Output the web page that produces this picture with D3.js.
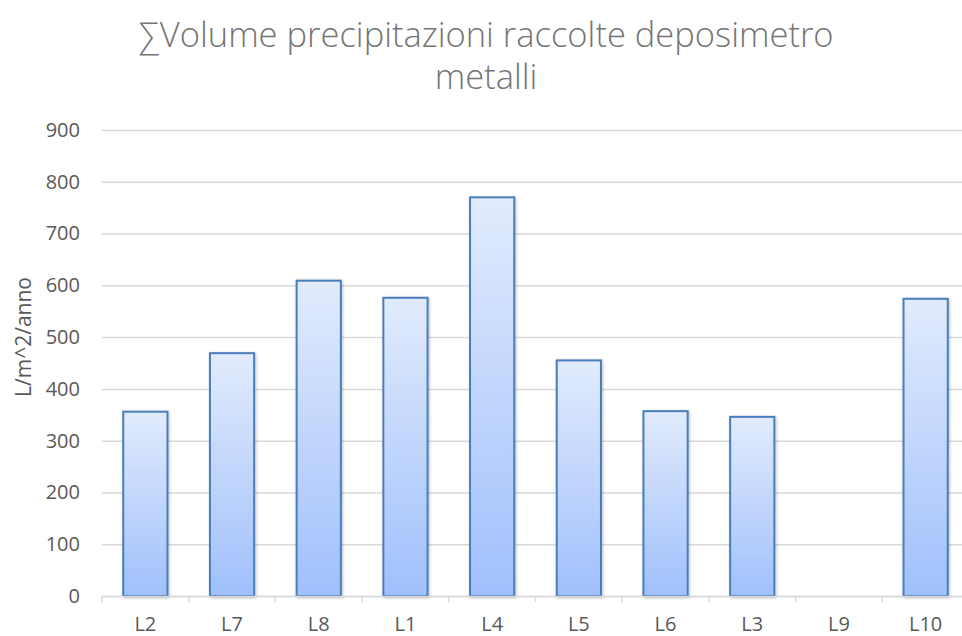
<!DOCTYPE html>
<html>
<head>
<meta charset="utf-8">
<script src="https://cdn.jsdelivr.net/npm/d3@7"></script>
<style>
  html, body { margin: 0; padding: 0; background: #fff; overflow: hidden; }
  svg { display: block; font-family: 'Open Sans', sans-serif; }
</style>
</head>
<body>
<div id="chart"></div>
<script>
var categories = ['L2', 'L7', 'L8', 'L1', 'L4', 'L5', 'L6', 'L3', 'L9', 'L10']
var values = [356, 469, 609, 576, 770, 455, 357, 346, 0, 574]
var yTicks = [0, 100, 200, 300, 400, 500, 600, 700, 800, 900]
var titleLines = ['\u2211Volume precipitazioni raccolte deposimetro', 'metalli']
var yLabel = 'L/m^2/anno'

var width = 962
var height = 636
var margin = {left: 102, right: -7, top: 130, bottom: 40}

var svg = d3.select('#chart')
  .append('svg')
  .attr('width', width)
  .attr('height', height)

var defs = svg.append('defs')
var grad = defs.append('linearGradient')
  .attr('id', 'barGrad')
  .attr('x1', '0%').attr('y1', '0%')
  .attr('x2', '0%').attr('y2', '100%')
grad.append('stop').attr('offset', '0%').attr('stop-color', '#e1ebfc')
grad.append('stop').attr('offset', '100%').attr('stop-color', '#a0c0fc')

var shadow = defs.append('filter')
  .attr('id', 'shadow')
  .attr('x', '-20%').attr('y', '-5%')
  .attr('width', '140%').attr('height', '110%')
shadow.append('feDropShadow')
  .attr('dx', 1).attr('dy', 1)
  .attr('stdDeviation', 1.5)
  .attr('flood-color', '#000')
  .attr('flood-opacity', 0.25)

var xScale = d3.scaleBand()
  .domain(categories)
  .range([margin.left, width - margin.right])
  .paddingInner(0.49)
  .paddingOuter(0.245)

var xBand = d3.scaleBand()
  .domain(categories)
  .range([margin.left, width - margin.right])

var yScale = d3.scaleLinear()
  .domain([0, 900])
  .range([height - margin.bottom, margin.top])

// gridlines
var grid = svg.append('g')
  .attr('class', 'grid')
  .attr('transform', 'translate(' + margin.left + ',0)')
  .call(d3.axisLeft(yScale)
    .tickValues(yTicks)
    .tickSize(-(width - margin.right - margin.left))
    .tickFormat(''))
grid.select('.domain').remove()
grid.selectAll('line')
  .attr('stroke', '#d9d9d9')
  .attr('stroke-width', 1.5)

// y tick labels
var yAxis = svg.append('g')
  .attr('transform', 'translate(' + margin.left + ',0)')
  .call(d3.axisLeft(yScale).tickValues(yTicks).tickSize(0).tickPadding(22))
yAxis.select('.domain').remove()
yAxis.selectAll('text')
  .attr('fill', '#595959')
  .style('font-size', '20px')
  .style('font-family', "'Open Sans', sans-serif")

// bars
svg.append('g')
  .selectAll('rect')
  .data(categories.map(function (c, i) { return {cat: c, value: values[i]} }))
  .enter()
  .filter(function (d) { return d.value > 0 })
  .append('rect')
  .attr('x', function (d) { return xScale(d.cat) })
  .attr('y', function (d) { return yScale(d.value) })
  .attr('width', xScale.bandwidth())
  .attr('height', function (d) { return yScale(0) - yScale(d.value) })
  .attr('fill', 'url(#barGrad)')
  .attr('stroke', '#4a7ebb')
  .attr('stroke-width', 2)
  .attr('filter', 'url(#shadow)')

// x axis
var xAxis = svg.append('g')
  .attr('transform', 'translate(0,' + yScale(0) + ')')
  .call(d3.axisBottom(xBand).tickSize(0).tickPadding(21).tickSizeOuter(0))
xAxis.select('.domain')
  .attr('stroke', '#d9d9d9')
  .attr('stroke-width', 1.5)
xAxis.selectAll('text')
  .attr('fill', '#595959')
  .style('font-size', '20px')
  .style('font-family', "'Open Sans', sans-serif")

// x ticks between categories
svg.append('g')
  .selectAll('line')
  .data(categories)
  .enter()
  .append('line')
  .attr('x1', function (d) { return xBand(d) })
  .attr('x2', function (d) { return xBand(d) })
  .attr('y1', yScale(0))
  .attr('y2', yScale(0) + 6)
  .attr('stroke', '#d9d9d9')
  .attr('stroke-width', 1.5)

// title
svg.append('g')
  .selectAll('text')
  .data(titleLines)
  .enter()
  .append('text')
  .attr('x', 486)
  .attr('y', function (d, i) { return 47 + i * 42 })
  .attr('text-anchor', 'middle')
  .attr('fill', '#757575')
  .style('font-size', '34.5px')
  .style('font-weight', 300)
  .text(function (d) { return d })

// y axis title
svg.append('text')
  .attr('transform', 'translate(31,337) rotate(-90)')
  .attr('text-anchor', 'middle')
  .attr('fill', '#595959')
  .style('font-size', '21px')
  .text(yLabel)
</script>
</body>
</html>
